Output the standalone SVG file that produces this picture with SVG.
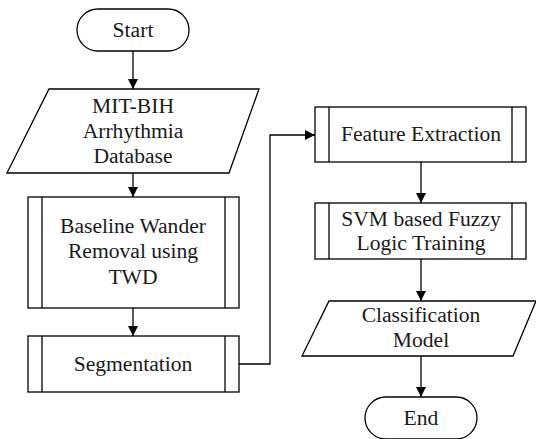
<svg xmlns="http://www.w3.org/2000/svg" width="536" height="439" viewBox="0 0 536 439">
<style>
.s{fill:#fff;stroke:#000;stroke-width:1.3}
.l{fill:none;stroke:#000;stroke-width:1.3}
.t{font-family:'Liberation Serif','DejaVu Serif',serif;font-size:21.6px;fill:#1a1a1a;text-anchor:middle}
</style>
<defs>
<marker id="a" markerWidth="10" markerHeight="10" refX="10" refY="5" orient="auto" markerUnits="userSpaceOnUse">
<path d="M0,0 L10,5 L0,10 Z" fill="#000"/>
</marker>
</defs>
<g id="start">
<rect class="s" x="77" y="9" width="112" height="42" rx="21"/>
<text class="t" x="133" y="37">Start</text>
</g>
<g id="mitbih">
<polygon class="s" points="49,89 259,89 229,173 7,173"/>
<text class="t" x="133" y="113">MIT-BIH</text>
<text class="t" x="133" y="138">Arrhythmia</text>
<text class="t" x="133" y="163">Database</text>
</g>
<g id="baseline">
<rect class="s" x="28" y="197" width="211" height="111"/>
<line class="l" x1="42" y1="197" x2="42" y2="308"/>
<line class="l" x1="225" y1="197" x2="225" y2="308"/>
<text class="t" x="133" y="233">Baseline Wander</text>
<text class="t" x="133" y="258">Removal using</text>
<text class="t" x="133" y="284">TWD</text>
</g>
<g id="segmentation">
<rect class="s" x="28" y="336" width="211" height="56"/>
<line class="l" x1="42" y1="336" x2="42" y2="392"/>
<line class="l" x1="225" y1="336" x2="225" y2="392"/>
<text class="t" x="133" y="371">Segmentation</text>
</g>
<g id="feature">
<rect class="s" x="315" y="107" width="211" height="55"/>
<line class="l" x1="329" y1="107" x2="329" y2="162"/>
<line class="l" x1="512" y1="107" x2="512" y2="162"/>
<text class="t" x="421" y="141">Feature Extraction</text>
</g>
<g id="svm">
<rect class="s" x="315" y="203" width="211" height="56"/>
<line class="l" x1="329" y1="203" x2="329" y2="259"/>
<line class="l" x1="512" y1="203" x2="512" y2="259"/>
<text class="t" x="421" y="226">SVM based Fuzzy</text>
<text class="t" x="421" y="250">Logic Training</text>
</g>
<g id="classification">
<polygon class="s" points="329,301 536,301 513,356 302,356"/>
<text class="t" x="421" y="322">Classification</text>
<text class="t" x="421" y="347">Model</text>
</g>
<g id="end">
<rect class="s" x="365" y="397" width="112" height="42" rx="21"/>
<text class="t" x="421" y="425">End</text>
</g>
<g id="connectors">
<line class="l" x1="133" y1="51" x2="133" y2="89" marker-end="url(#a)"/>
<line class="l" x1="133" y1="173" x2="133" y2="197" marker-end="url(#a)"/>
<line class="l" x1="133" y1="308" x2="133" y2="336" marker-end="url(#a)"/>
<polyline class="l" points="239,364 270,364 270,135 315,135" marker-end="url(#a)"/>
<line class="l" x1="421" y1="162" x2="421" y2="203" marker-end="url(#a)"/>
<line class="l" x1="421" y1="259" x2="421" y2="301" marker-end="url(#a)"/>
<line class="l" x1="421" y1="356" x2="421" y2="397" marker-end="url(#a)"/>
</g>
</svg>
